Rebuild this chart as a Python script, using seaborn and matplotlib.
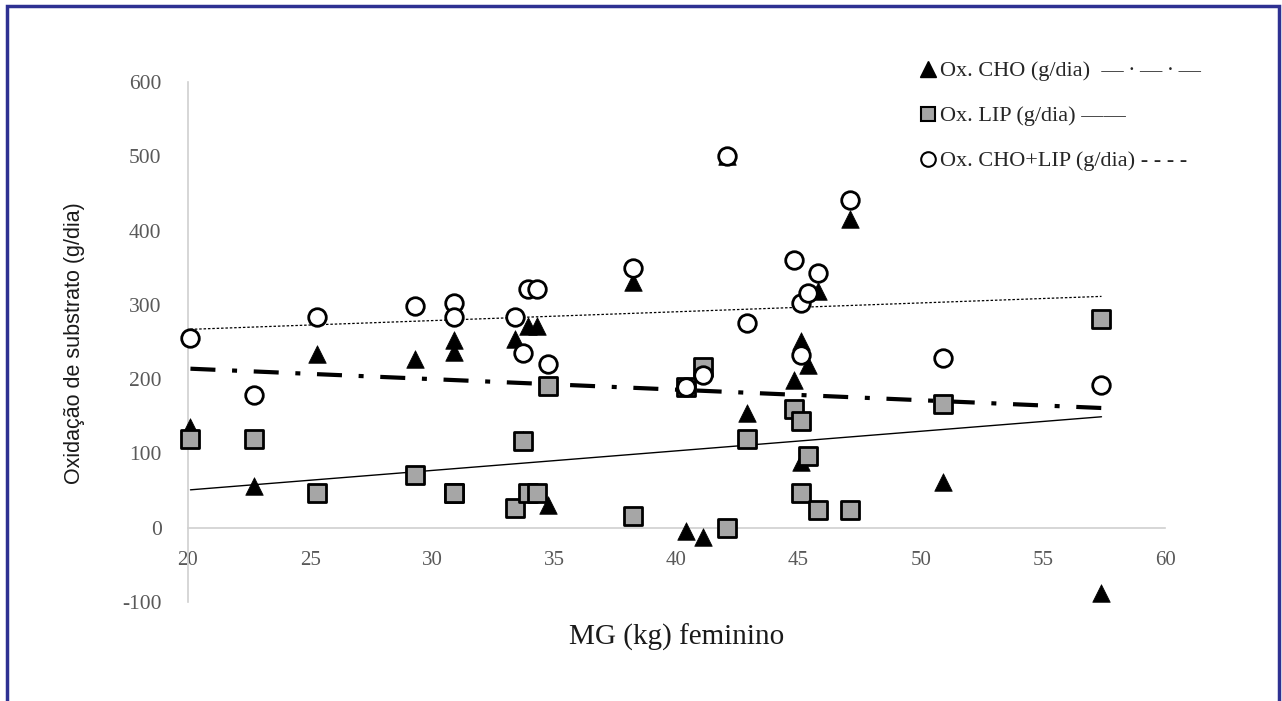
import matplotlib
matplotlib.use("Agg")
import matplotlib.pyplot as plt
import seaborn as sns
import pandas as pd
import numpy as np
from matplotlib.lines import Line2D
from matplotlib.patches import Rectangle

# ---- data ----
mg_kg = [20.1, 22.7, 25.3, 29.3, 30.9, 30.9, 33.4, 33.7, 33.9, 34.3, 34.75, 38.2,
         40.4, 41.1, 42.05, 42.9, 44.8, 45.1, 45.1, 45.4, 45.8, 47.1, 50.9, 57.4]
ox_cho = [136, 56, 234, 227, 253, 236, 254, 118, 272, 272, 30, 331,
          -5, -12, 500, 155, 199, 252, 89, 219, 318, 415, 62, -88]
ox_lip = [120, 120, 47, 71, 47, 47, 27, 117, 47, 47, 191, 16,
          190, 217, 0, 120, 160, 47, 143, 96, 24, 24, 167, 281]
ox_tot = [256, 178, 283, 299, 303, 283, 284, 235, 322, 322, 221, 350,
          190, 206, 500, 275, 360, 303, 233, 316, 343, 441, 229, 192]

legend_labels = ["Ox. CHO (g/dia)  \u2014\u2009\u00b7\u2009\u2014\u2009\u00b7\u2009\u2014",
                 "Ox. LIP (g/dia) \u2014\u2014",
                 "Ox. CHO+LIP (g/dia) - - - -"]
x_ticks = [20, 25, 30, 35, 40, 45, 50, 55, 60]
y_ticks = [-100, 0, 100, 200, 300, 400, 500, 600]

df = pd.DataFrame({"mg": mg_kg, "cho": ox_cho, "lip": ox_lip, "tot": ox_tot})

sns.set_style("white")
plt.rcParams["font.family"] = ["Liberation Serif", "DejaVu Serif"]
plt.rcParams["axes.unicode_minus"] = False

fig = plt.figure(figsize=(12.82, 7.01), dpi=100)
ax = fig.add_axes([188 / 1282, 1 - 602 / 701, (1165 - 188) / 1282, (602 - 82) / 701])

# trend lines
sns.regplot(data=df, x="mg", y="cho", scatter=False, ci=None, ax=ax, truncate=True,
            line_kws=dict(color="black", lw=3, ls=(0, (6, 4, 1.2, 4))))
sns.regplot(data=df, x="mg", y="lip", scatter=False, ci=None, ax=ax, truncate=True,
            line_kws=dict(color="black", lw=1.0, ls="-"))
sns.regplot(data=df, x="mg", y="tot", scatter=False, ci=None, ax=ax, truncate=True,
            line_kws=dict(color="black", lw=0.9, ls=(0, (2, 1.5))))

# markers
sns.scatterplot(data=df, x="mg", y="cho", marker="^", s=160, color="black",
                edgecolor="black", linewidth=0.5, ax=ax, zorder=3)
sns.scatterplot(data=df, x="mg", y="lip", marker="s", s=160, color="#a6a6a6",
                edgecolor="black", linewidth=2, ax=ax, zorder=4)
sns.scatterplot(data=df, x="mg", y="tot", marker="o", s=160, color="white",
                edgecolor="black", linewidth=2, ax=ax, zorder=5)
for coll in ax.collections:
    coll.set_clip_on(False)

ax.set_xlim(20, 60)
ax.set_ylim(-100, 600)
ax.set_xticks(x_ticks)
ax.set_yticks(y_ticks)
for s in ["top", "right"]:
    ax.spines[s].set_visible(False)
ax.spines["bottom"].set_position(("data", 0))
for s in ["bottom", "left"]:
    ax.spines[s].set_color("#d0d0d0")
    ax.spines[s].set_linewidth(1.2)
ax.tick_params(axis="both", length=0, colors="#595959")
ax.tick_params(axis="y", pad=19, labelsize=15.5)
ax.tick_params(axis="x", pad=17, labelsize=15)
ax.set_xlabel("")
ax.set_ylabel("")

fig.text(677 / 1282, 1 - 637 / 701, "MG (kg) feminino", ha="center", va="center",
         fontsize=21, family="Liberation Serif", color="#1a1a1a")
fig.text(75 / 1282, 1 - 343 / 701, "Oxidação de substrato (g/dia)", rotation=90,
         ha="center", va="center", fontsize=15.5, family="Liberation Sans", color="#1a1a1a")

handles = [
    Line2D([], [], marker="^", ls="none", color="black", markersize=11),
    Line2D([], [], marker="s", ls="none", markerfacecolor="#a6a6a6",
           markeredgecolor="black", markeredgewidth=1.5, markersize=10.5),
    Line2D([], [], marker="o", ls="none", markerfacecolor="white",
           markeredgecolor="black", markeredgewidth=1.5, markersize=10.5),
]
leg = fig.legend(handles, legend_labels, loc="upper left",
                 bbox_to_anchor=(912 / 1282, 1 - 52 / 701), frameon=False,
                 prop={"family": ["Liberation Serif", "DejaVu Serif"], "size": 16},
                 handlelength=0.6, handletextpad=0.25, labelspacing=1.1,
                 borderaxespad=0)

# outer blue border (bottom edge runs off the image)
fig.patches.append(Rectangle((7 / 1282, -0.05), (1279 - 7) / 1282, 1 + 0.05 - 6 / 701,
                             transform=fig.transFigure, fill=False,
                             edgecolor="#2e3192", lw=2.5))

fig.savefig("out.png", dpi=100)
